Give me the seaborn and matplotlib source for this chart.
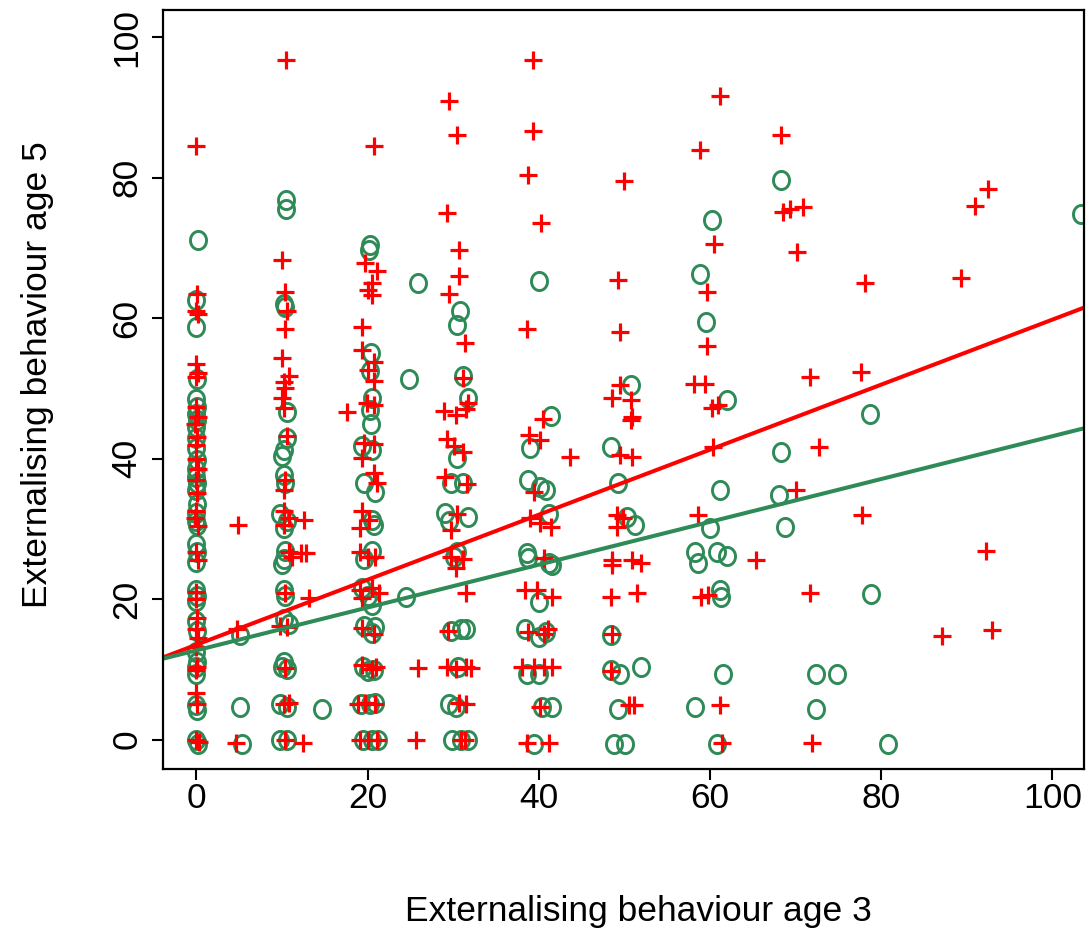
import numpy as np
import pandas as pd
import matplotlib
matplotlib.use("Agg")
import matplotlib.pyplot as plt
from matplotlib.path import Path
import seaborn as sns

# puntos (rojo = +, verde = o), columna por columna
red_x = [
    0.0, 0.1, -0.1, 0.2, 0.0, 0.2, -0.1, 0.0, 0.2, -0.2, 0.1, 0.0, -0.1, 0.2, 0.0, 0.1, 0.0,
    -0.2, 0.2, 0.0, 0.2, 0.0, -0.1, 0.1, 0.0, 0.2, 0.0, 0.1, -0.1, 0.0, 0.1, 0.0, 0.3,
    4.9, 4.8, 4.6,
    10.5, 10.0, 10.4, 10.6, 10.4, 10.0, 10.8, 10.2, 10.4, 10.0, 10.2, 10.6, 10.4, 10.2, 10.2, 10.8,
    12.6, 10.2, 10.8, 11.2, 12.2, 12.8, 10.4, 13.2, 9.8, 10.6, 10.3, 10.2, 10.8, 10.4, 12.4,
    17.6, 20.7, 19.7, 21.1, 20.5, 20.1, 20.5, 19.3, 19.3, 20.7, 20.1, 20.7, 19.9, 20.7, 19.6, 20.7,
    19.4, 20.7, 21.1, 19.3, 19.1, 20.2, 19.1, 20.1, 20.9, 19.1, 20.5, 21.3, 19.4, 19.4, 20.7, 19.3,
    20.5, 21.0, 18.9, 19.7, 20.9, 19.1, 20.1, 21.1,
    25.9, 25.7,
    29.5, 30.5, 29.3, 30.7, 30.7, 29.5, 31.4, 31.2, 31.7, 31.5, 28.9, 30.3, 29.3, 30.1, 31.1, 29.1,
    31.6, 30.4, 29.8, 29.8, 31.1, 30.3, 31.5, 29.4, 29.3, 30.3, 31.5, 32.1, 30.7, 31.5, 30.9, 31.4,
    39.3, 39.3, 38.8, 40.3, 38.6, 40.5, 38.9, 40.1, 43.7, 39.4, 39.0, 40.2, 41.4, 40.6, 38.4, 39.8,
    41.6, 38.8, 40.6, 41.1, 38.0, 39.5, 40.6, 41.5, 40.2, 38.6, 41.2,
    50.0, 49.3, 49.5, 49.5, 48.6, 50.8, 50.9, 50.8, 49.5, 50.9, 49.1, 49.9, 49.2, 48.6, 48.6, 50.9,
    51.9, 48.4, 51.5, 48.6, 48.4, 50.5, 51.1,
    61.2, 58.8, 60.5, 59.7, 59.7, 58.1, 59.4, 60.2, 61.0, 60.4, 58.6, 65.4, 58.9, 59.8, 61.2, 61.4,
    68.3, 68.5, 69.3, 70.9, 70.2, 71.7, 72.7, 70.0, 71.7, 71.9,
    78.1, 77.6, 77.8,
    89.3, 92.5, 91.0, 92.3, 87.1, 93.0,
]
red_y = [
    84.6, 63.5, 61.0, 60.6, 53.5, 52.2, 51.7, 47.4, 46.0, 45.0, 43.1, 41.9, 40.0, 38.5, 36.9, 35.1, 32.6,
    31.5, 30.4, 26.7, 25.5, 21.0, 20.0, 17.3, 15.8, 14.5, 13.2, 10.3, 9.9, 6.6, 5.0, -0.1, -0.4,
    30.5, 15.8, -0.5,
    96.8, 68.3, 63.8, 61.1, 58.4, 54.3, 51.8, 50.9, 50.1, 48.7, 47.2, 43.3, 36.9, 35.5, 32.6, 31.6,
    31.3, 30.6, 26.7, 26.0, 26.6, 26.6, 20.9, 20.1, 16.2, 16.0, 10.2, 5.0, 5.2, -0.1, -0.5,
    46.7, 84.6, 67.9, 66.7, 65.0, 64.0, 63.3, 58.7, 55.5, 53.8, 52.6, 51.1, 47.9, 47.7, 42.3, 42.1,
    40.1, 37.9, 36.5, 32.6, 30.1, 31.2, 26.7, 26.0, 26.0, 21.3, 21.6, 20.8, 20.1, 15.9, 15.1, 10.6,
    10.1, 10.4, 5.0, 5.2, 5.0, -0.1, -0.1, -0.1,
    10.2, -0.1,
    90.9, 86.1, 75.0, 69.7, 66.0, 63.5, 56.5, 51.5, 48.0, 47.1, 46.8, 46.2, 42.8, 41.8, 40.9, 37.4,
    36.4, 32.1, 29.9, 26.0, 25.7, 24.5, 20.9, 15.5, 10.4, 10.1, 10.4, 10.2, 5.2, 5.0, -0.1, -0.1,
    96.8, 86.7, 80.4, 73.6, 58.4, 45.6, 43.4, 42.6, 40.2, 35.3, 31.5, 30.8, 30.3, 25.8, 21.3, 21.3,
    20.3, 15.3, 15.1, 15.7, 10.3, 10.3, 10.3, 10.3, 4.6, -0.5, -0.5,
    79.5, 65.5, 58.1, 50.5, 48.6, 48.3, 46.0, 45.5, 40.5, 40.2, 32.0, 31.5, 30.3, 25.5, 24.8, 25.5,
    25.1, 20.3, 20.9, 15.1, 9.7, 4.9, 4.9,
    91.7, 84.0, 70.6, 63.8, 56.0, 50.6, 50.6, 47.2, 47.6, 41.7, 32.0, 25.6, 20.3, 20.6, 4.9, -0.5,
    86.1, 75.2, 75.5, 75.9, 69.5, 51.6, 41.7, 35.5, 20.9, -0.5,
    65.0, 52.4, 32.0,
    65.8, 78.4, 76.0, 26.9, 14.7, 15.6,
]

green_x = [
    0.2, 0.0, -0.1, 0.1, 0.0, 0.1, -0.1, 0.1, 0.0, -0.1, 0.0, 0.1, 0.0, -0.1, 0.1, 0.0, 0.1, 0.0,
    -0.1, 0.1, 0.0, 0.1, -0.1, 0.0, 0.1, -0.1, 0.0, 0.1, 0.0, 0.1, -0.1, 0.0, 0.0, 0.1, 0.0, 0.2,
    5.1, 5.1, 5.3,
    10.5, 10.5, 10.2, 10.4, 10.6, 10.6, 10.2, 10.0, 10.2, 10.4, 9.8, 10.6, 10.2, 10.4, 10.2, 10.0,
    10.2, 10.4, 10.2, 10.8, 10.2, 10.6, 10.0, 9.8, 10.6, 9.8, 10.6,
    14.7,
    20.3, 20.2, 20.4, 20.3, 20.5, 20.3, 20.4, 19.3, 20.5, 19.6, 20.9, 20.5, 20.7, 20.5, 19.6, 19.3,
    20.1, 20.5, 19.6, 20.9, 20.5, 19.5, 20.7, 20.1, 19.2, 20.3, 20.9, 19.5, 20.5, 21.2,
    25.9, 24.8, 24.5,
    30.8, 30.5, 31.1, 31.7, 30.5, 29.7, 31.1, 29.1, 29.5, 31.7, 30.4, 30.1, 29.7, 30.9, 31.5, 30.6,
    29.5, 30.3, 29.9, 30.9, 31.7,
    40.0, 41.4, 39.0, 38.8, 40.2, 40.8, 41.2, 38.6, 38.8, 41.2, 41.6, 40.0, 38.4, 40.0, 40.8, 38.6,
    40.0, 40.4, 41.6, 39.4,
    50.8, 48.4, 49.3, 50.3, 51.3, 48.4, 48.4, 49.5, 51.9, 49.3, 48.8, 50.1,
    58.8, 60.2, 59.5, 62.0, 61.2, 60.0, 58.3, 58.6, 60.8, 62.0, 61.2, 61.3, 61.5, 58.3, 60.8,
    68.3, 68.3, 68.1, 68.8, 72.4, 74.9, 72.4,
    78.7, 78.8, 80.8,
    103.3,
]
green_y = [
    71.1, 62.6, 58.7, 51.3, 48.5, 47.4, 46.4, 45.5, 44.5, 43.0, 41.5, 39.8, 38.5, 37.4, 36.5, 35.5, 33.5, 32.3,
    31.1, 30.5, 27.8, 26.7, 25.3, 21.3, 20.4, 19.8, 16.9, 15.5, 12.5, 11.1, 10.3, 9.4, 4.9, 4.2, -0.1, -0.6,
    14.9, 4.6, -0.7,
    76.9, 75.5, 62.1, 61.6, 46.7, 43.0, 41.3, 40.4, 37.7, 36.5, 32.1, 31.1, 30.1, 26.9, 25.7, 25.0,
    21.3, 20.4, 17.2, 16.5, 11.1, 10.1, 10.4, 5.0, 4.7, -0.1, -0.1,
    4.4,
    70.4, 69.7, 55.0, 52.5, 48.7, 47.0, 45.0, 41.8, 41.3, 36.5, 35.2, 31.3, 30.6, 26.9, 25.7, 21.6,
    20.4, 19.1, 16.2, 16.0, 15.2, 10.4, 9.9, 9.7, 5.0, 5.0, 5.2, -0.1, -0.1, -0.1,
    65.0, 51.3, 20.3,
    61.0, 59.1, 51.8, 48.7, 40.1, 36.5, 36.5, 32.3, 31.1, 31.7, 26.7, 26.0, 15.5, 15.7, 15.7, 10.4,
    5.0, 4.7, -0.1, -0.1, -0.1,
    65.3, 46.1, 41.5, 36.9, 36.0, 35.6, 32.1, 26.5, 25.8, 25.1, 24.8, 19.6, 15.8, 14.6, 15.3, 9.4,
    9.4, 4.6, 4.6, -0.7,
    50.5, 41.7, 36.6, 31.7, 30.5, 14.9, 9.9, 9.4, 10.3, 4.4, -0.7, -0.7,
    66.3, 74.0, 59.4, 48.4, 35.6, 30.1, 26.7, 25.1, 26.7, 26.1, 21.3, 20.3, 9.4, 4.6, -0.7,
    79.7, 41.0, 34.8, 30.3, 9.4, 9.4, 4.4,
    46.4, 20.7, -0.7,
    74.9,
]

# rectas de regresion (abline) por grupo
red_intercept, red_slope = 13.5, 0.463
green_intercept, green_slope = 12.7, 0.305

ticks = [0, 20, 40, 60, 80, 100]
x_label = "Externalising behaviour age 3"
y_label = "Externalising behaviour age 5"

RED = "#FF0000"
GREEN = "#2E8B57"

sns.set_style("white")
plt.rcParams["font.family"] = ["Liberation Sans", "DejaVu Sans"]
plt.rcParams["text.color"] = "black"
plt.rcParams["axes.labelcolor"] = "black"


def marcador_o():
    """Anillo eliptico, parecido a la letra o de R."""
    t = np.linspace(0, 2 * np.pi, 60)
    exterior = np.column_stack([0.45 * np.cos(t), 0.5 * np.sin(t)])
    interior = np.column_stack([0.31 * np.cos(t[::-1]), 0.36 * np.sin(t[::-1])])
    codigos = [Path.MOVETO] + [Path.LINETO] * 58 + [Path.CLOSEPOLY]
    return Path(np.vstack([exterior, interior]), codigos + codigos)


df_red = pd.DataFrame({"x": red_x, "y": red_y})
df_green = pd.DataFrame({"x": green_x, "y": green_y})

fig, ax = plt.subplots(figsize=(10.88, 9.35), dpi=100)
fig.subplots_adjust(left=0.1498, right=0.9963, bottom=0.1775, top=0.9893)

sns.scatterplot(data=df_green, x="x", y="y", marker=marcador_o(), s=230,
                color=GREEN, edgecolor=GREEN, linewidth=0, ax=ax)
sns.scatterplot(data=df_red, x="x", y="y", marker="+", s=165,
                color=RED, linewidth=2.3, ax=ax)

ax.axline((0, red_intercept), slope=red_slope, color=RED, lw=2.9)
ax.axline((0, green_intercept), slope=green_slope, color=GREEN, lw=2.9)

ax.set_xlim(-3.9, 103.7)
ax.set_ylim(-4.2, 103.9)
ax.set_xticks(ticks)
ax.set_yticks(ticks)

for spine in ax.spines.values():
    spine.set_visible(True)
    spine.set_linewidth(1.6)
    spine.set_color("black")

ax.tick_params(direction="out", length=8, width=1.5, labelsize=25.5,
               bottom=True, left=True, top=False, right=False,
               colors="black", labelcolor="black")
ax.tick_params(axis="x", pad=1)
ax.tick_params(axis="y", pad=6, labelrotation=90)
for label in ax.get_yticklabels():
    label.set_va("center")

ax.set_xlabel(x_label, fontsize=25.5)
ax.set_ylabel(y_label, fontsize=25.5)
ax.xaxis.label.set_va("center")
ax.yaxis.label.set_va("center")
ax.xaxis.set_label_coords(0.516, -0.188)
ax.yaxis.set_label_coords(-0.136, 0.52)

fig.savefig("out.png", dpi=100)
plt.close(fig)
